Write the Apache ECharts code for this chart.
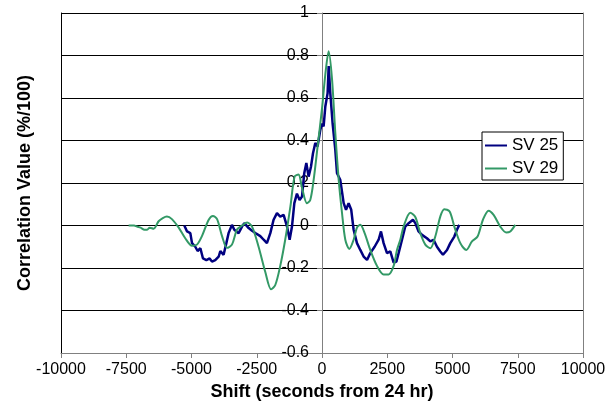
<!DOCTYPE html>
<html>
<head>
<meta charset="utf-8">
<script src="https://cdn.jsdelivr.net/npm/echarts@6/dist/echarts.min.js"></script>
<style>html,body{margin:0;padding:0;background:#fff}#c{width:615px;height:409px}</style>
</head>
<body>
<div id="c"></div>
<script>
// x tick labels: -10000 .. 10000 step 2500; y ticks -0.6 .. 1 step 0.2
var xTicks = [-10000, -7500, -5000, -2500, 0, 2500, 5000, 7500, 10000];
var yTicks = [-0.6, -0.4, -0.2, 0, 0.2, 0.4, 0.6, 0.8, 1];
var seriesNames = ['SV 25', 'SV 29'];

var sv25X = [-5275,-5170,-5045,-4980,-4855,-4765,-4660,-4560,-4430,-4305,-4215,-4090,-3960,-3895,-3770,-3665,-3580,-3450,-3360,-3195,-3065,-2975,-2810,-2680,-2555,-2365,-2235,-2110,-1980,-1855,-1725,-1600,-1470,-1340,-1240,-1150,-1060,-960,-860,-766,-680,-600,-513,-420,-345,-257,-170,-65,0,62,127,215,255,318,407,510,575,700,830,920,1020,1120,1212,1340,1467,1595,1725,1850,2015,2170,2260,2360,2490,2617,2745,2850,2935,3065,3190,3320,3485,3575,3700,3830,4020,4150,4275,4405,4532,4635,4790,4915,5070,5170,5260];
var sv25Y = [0.0,-0.028,-0.036,-0.083,-0.1,-0.12,-0.107,-0.155,-0.163,-0.155,-0.17,-0.163,-0.147,-0.12,-0.138,-0.083,-0.036,0.003,-0.02,-0.036,-0.005,0.011,-0.012,-0.025,-0.035,-0.05,-0.067,-0.083,-0.036,0.027,0.058,0.042,0.05,-0.005,-0.067,-0.005,0.105,0.15,0.12,0.136,0.246,0.294,0.23,0.278,0.34,0.388,0.372,0.45,0.48,0.466,0.56,0.623,0.75,0.623,0.48,0.356,0.246,0.215,0.105,0.074,0.105,0.074,-0.02,-0.083,-0.115,-0.146,-0.162,-0.13,-0.1,-0.067,-0.028,-0.083,-0.13,-0.122,-0.175,-0.17,-0.13,-0.067,-0.005,0.011,0.027,0.011,-0.028,-0.044,-0.06,-0.075,-0.067,-0.1,-0.122,-0.138,-0.115,-0.083,-0.052,-0.02,0.003];

var sv29X = [-7410,-7200,-7090,-6950,-6800,-6700,-6600,-6450,-6260,-6100,-5940,-5750,-5490,-5240,-4980,-4790,-4600,-4340,-4180,-4020,-3830,-3640,-3450,-3260,-3060,-2870,-2680,-2430,-2170,-1950,-1790,-1600,-1410,-1210,-1050,-900,-770,-575,-450,-320,-170,0,127,255,383,510,640,766,893,1046,1212,1340,1467,1633,1850,2107,2360,2553,2745,2873,3000,3126,3383,3575,3766,3958,4150,4340,4532,4685,4890,5070,5300,5530,5746,5960,6166,6383,6575,6830,7060,7214,7405];
var sv29Y = [0.0,0.0,-0.005,-0.01,-0.02,-0.02,-0.01,-0.015,0.02,0.035,0.042,0.03,-0.01,-0.06,-0.095,-0.09,-0.05,0.027,0.045,0.03,-0.05,-0.105,-0.09,-0.02,0.0,0.014,-0.005,-0.1,-0.22,-0.3,-0.28,-0.19,-0.067,0.09,0.23,0.24,0.18,0.105,0.12,0.215,0.37,0.55,0.71,0.82,0.69,0.435,0.215,0.06,-0.067,-0.11,-0.067,-0.01,0.003,-0.036,-0.115,-0.19,-0.23,-0.23,-0.19,-0.115,-0.067,-0.005,0.06,0.04,-0.036,-0.09,-0.107,-0.052,0.042,0.077,0.066,-0.005,-0.083,-0.115,-0.075,-0.052,0.027,0.07,0.05,-0.005,-0.033,-0.028,0.003];

function zip(xs, ys){ return xs.map(function(x,i){ return [x, ys[i]]; }); }

var FONT = 'Liberation Sans, Arial, sans-serif';
var GRID_LEFT = 61, GRID_RIGHT = 32;
var chart = echarts.init(document.getElementById('c'), null, {renderer:'canvas'});
var yMin = yTicks[0], yMax = yTicks[yTicks.length-1];
var xMin = xTicks[0], xMax = xTicks[xTicks.length-1];
function fmtY(v){ var r = Math.round(v*10)/10; return String(r); }
function fmtX(v){ return String(Math.round(v)); }
// place the labelled y axis at x = 0 (offset measured from the left grid edge)
var plotW = 615 - GRID_LEFT - GRID_RIGHT;
var zeroOffset = -Math.round((0 - xMin) / (xMax - xMin) * plotW);

chart.setOption({
  animation: false,
  backgroundColor: '#fff',
  grid: {left: GRID_LEFT, right: GRID_RIGHT, top: 13, bottom: 56, containLabel: false},
  legend: {
    data: seriesNames,
    orient: 'vertical',
    left: 482, top: 132,
    backgroundColor: '#fff',
    borderColor: '#000', borderWidth: 1,
    padding: [5, 5, 3, 3],
    icon: 'rect',
    itemWidth: 22, itemHeight: 2, itemGap: 6,
    textStyle: {fontFamily: FONT, fontSize: 17, color: '#000', lineHeight: 17}
  },
  xAxis: {
    type: 'value',
    min: xMin, max: xMax, interval: xTicks[1]-xTicks[0],
    name: 'Shift (seconds from 24 hr)',
    nameLocation: 'middle', nameGap: 17,
    nameTextStyle: {fontFamily: FONT, fontSize: 18, fontWeight: 'bold', color: '#000'},
    axisLine: {onZero: false, lineStyle: {color: '#808080', width: 1}},
    axisTick: {show: true, inside: false, length: 5, lineStyle: {color: '#808080'}},
    axisLabel: {fontFamily: FONT, fontSize: 16, color: '#000', margin: 9, formatter: fmtX},
    splitLine: {show: false}
  },
  yAxis: [{
    type: 'value', position: 'left', offset: zeroOffset,
    min: yMin, max: yMax, interval: 0.2,
    axisLine: {show: true, onZero: false, lineStyle: {color: '#808080', width: 1}},
    axisTick: {show: true, inside: false, length: 5, lineStyle: {color: '#808080'}},
    axisLabel: {fontFamily: FONT, fontSize: 16, color: '#000', margin: 13, formatter: fmtY, padding: [4,0,0,0]},
    splitLine: {show: true, lineStyle: {color: '#000', width: 1}}
  }, {
    type: 'value', position: 'left', offset: 0,
    min: yMin, max: yMax, interval: 0.2,
    name: 'Correlation Value (%/100)',
    nameLocation: 'middle', nameGap: 27,
    nameTextStyle: {fontFamily: FONT, fontSize: 18, fontWeight: 'bold', color: '#000'},
    axisLine: {show: true, onZero: false, lineStyle: {color: '#000', width: 1}},
    axisTick: {show: false}, axisLabel: {show: false}, splitLine: {show: false}
  }, {
    type: 'value', position: 'right',
    min: yMin, max: yMax, interval: 0.2,
    axisLine: {show: true, onZero: false, lineStyle: {color: '#808080', width: 1}},
    axisTick: {show: false}, axisLabel: {show: false}, splitLine: {show: false}
  }],
  series: [{
    name: seriesNames[0], type: 'line', yAxisIndex: 0,
    data: zip(sv25X, sv25Y),
    symbol: 'none', showSymbol: false,
    lineStyle: {color: '#000080', width: 2.5},
    itemStyle: {color: '#000080'}
  }, {
    name: seriesNames[1], type: 'line', yAxisIndex: 0,
    data: zip(sv29X, sv29Y),
    symbol: 'none', showSymbol: false, smooth: 0.3,
    lineStyle: {color: '#339966', width: 2},
    itemStyle: {color: '#339966'}
  }]
});
</script>
</body>
</html>
